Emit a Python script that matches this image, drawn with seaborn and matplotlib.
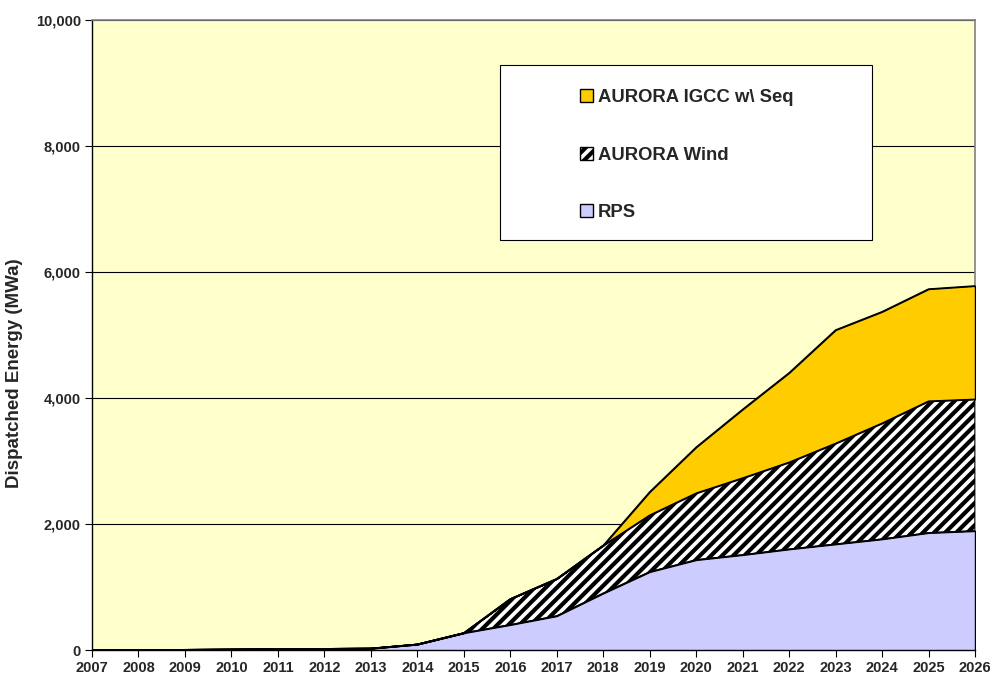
import numpy as np
import pandas as pd
import seaborn as sns
import matplotlib.pyplot as plt
from matplotlib.patches import Rectangle, Patch

# Values (MWa)
years = list(range(2007, 2027))
rps = [0, 0, 5, 10, 15, 20, 25, 90, 270, 400, 540, 900, 1240, 1430, 1510, 1600, 1680, 1760, 1860, 1890]
wind = [0, 0, 0, 0, 0, 0, 0, 0, 0, 410, 590, 760, 900, 1060, 1220, 1380, 1600, 1840, 2090, 2090]
igcc = [0, 0, 0, 0, 0, 0, 0, 0, 0, 0, 0, 0, 370, 730, 1090, 1420, 1800, 1770, 1780, 1800]

df = pd.DataFrame({'Year': years, 'RPS': rps, 'AURORA Wind': wind, 'AURORA IGCC w\\ Seq': igcc})

sns.set_style("ticks")
plt.rcParams['font.family'] = ['Liberation Sans', 'DejaVu Sans']
plt.rcParams['hatch.linewidth'] = 3.0

fig = plt.figure(figsize=(9.9, 6.8), dpi=100)
ax = fig.add_axes([92 / 990, 30 / 680, 883 / 990, 630 / 680])
ax.set_facecolor('#FFFFCC')

polys = ax.stackplot(df['Year'], df['RPS'], df['AURORA Wind'], df['AURORA IGCC w\\ Seq'],
                     colors=['#CCCCFF', 'white', '#FFCC00'], edgecolor='black', linewidth=1.0, zorder=3)
polys[1].set_hatch('///')

# outlines of the stacked series
cum = df[['RPS', 'AURORA Wind', 'AURORA IGCC w\\ Seq']].cumsum(axis=1)
for col in cum.columns:
    sns.lineplot(x=df['Year'], y=cum[col], color='black', linewidth=1.0, ax=ax, zorder=4)

ax.set_xlim(2007, 2026)
ax.set_ylim(0, 10000)
ax.set_xticks(years)
ax.set_xticklabels([str(y) for y in years], fontsize=10.5, fontweight='bold')
ax.set_yticks(range(0, 10001, 2000))
ax.set_yticklabels([f"{v:,}" for v in range(0, 10001, 2000)], fontsize=10.5, fontweight='bold')
ax.yaxis.grid(True, color='black', linewidth=0.8, zorder=1)
ax.set_axisbelow(True)
ax.tick_params(axis='both', direction='out', length=5, width=0.8, color='black', pad=3)
ax.set_xlabel('')
ax.set_ylabel('Dispatched Energy (MWa)', fontsize=13.5, fontweight='bold')
ax.yaxis.set_label_coords(-0.078, 0.44)

for side in ['left', 'bottom']:
    ax.spines[side].set_color('black')
    ax.spines[side].set_linewidth(1.0)
for side in ['top', 'right']:
    ax.spines[side].set_visible(True)
    ax.spines[side].set_color('#808080')
    ax.spines[side].set_linewidth(1.2)

# legend box
ax.add_patch(Rectangle((0.462, 0.651), 0.421, 0.278, transform=ax.transAxes,
                       facecolor='white', edgecolor='black', linewidth=0.8, zorder=5))
handles = [Patch(facecolor='#FFCC00', edgecolor='black', label='AURORA IGCC w\\ Seq'),
           Patch(facecolor='white', edgecolor='black', hatch='///', label='AURORA Wind'),
           Patch(facecolor='#CCCCFF', edgecolor='black', label='RPS')]
leg = ax.legend(handles=handles, loc='upper left', bbox_to_anchor=(0.534, 0.917),
                frameon=False, prop={'weight': 'bold', 'size': 13.3},
                handlelength=0.7, handleheight=0.7, handletextpad=0.25, labelspacing=2.2)
leg.set_zorder(6)

fig.savefig('out.png', dpi=100)
